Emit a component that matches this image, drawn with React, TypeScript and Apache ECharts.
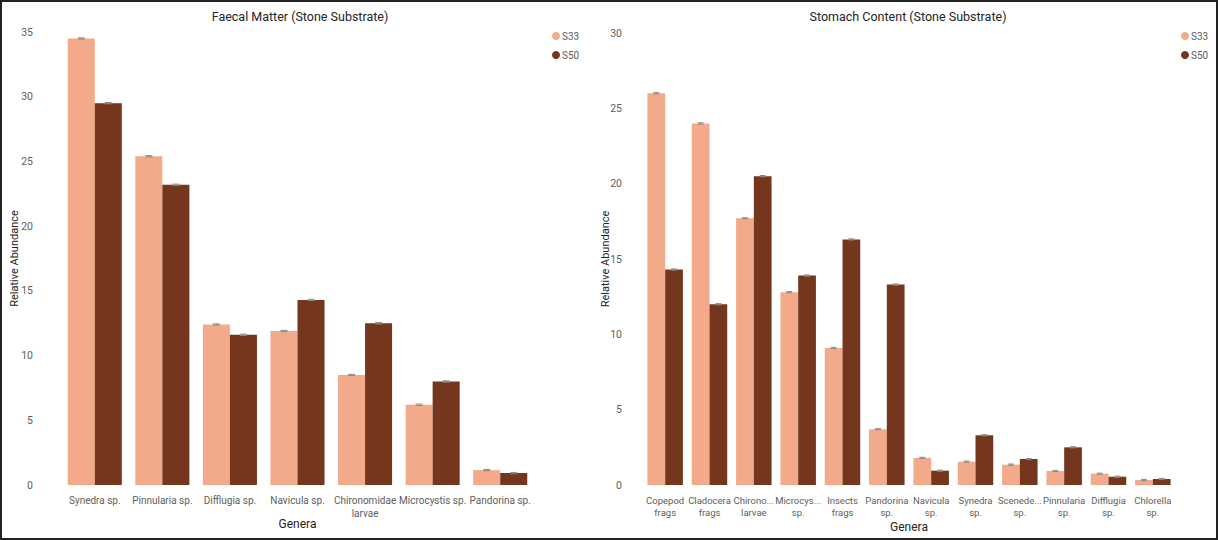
import React, { useEffect, useRef } from "react";
import * as echarts from "echarts";

const leftCategories = [
  "Synedra sp.",
  "Pinnularia sp.",
  "Difflugia sp.",
  "Navicula sp.",
  "Chironomidae\nlarvae",
  "Microcystis sp.",
  "Pandorina sp.",
];
const leftS33 = [34.5, 25.4, 12.4, 11.9, 8.5, 6.2, 1.15];
const leftS50 = [29.5, 23.2, 11.6, 14.3, 12.5, 8.0, 0.92];
const leftErr33 = [0.05, 0.05, 0.05, 0.05, 0.05, 0.05, 0.05];
const leftErr50 = [0.05, 0.05, 0.05, 0.05, 0.05, 0.05, 0.05];

const rightCategories = [
  "Copepod\nfrags",
  "Cladocera\nfrags",
  "Chirono...\nlarvae",
  "Microcys...\nsp.",
  "Insects\nfrags",
  "Pandorina\nsp.",
  "Navicula\nsp.",
  "Synedra\nsp.",
  "Scenede...\nsp.",
  "Pinnularia\nsp.",
  "Difflugia\nsp.",
  "Chlorella\nsp.",
];
const rightS33 = [26.0, 24.0, 17.7, 12.8, 9.1, 3.7, 1.8, 1.55, 1.35, 0.93, 0.75, 0.33];
const rightS50 = [14.3, 12.0, 20.5, 13.9, 16.3, 13.3, 0.95, 3.3, 1.72, 2.5, 0.55, 0.4];
const rightErr33 = [0.04, 0.04, 0.04, 0.04, 0.04, 0.04, 0.04, 0.04, 0.04, 0.04, 0.04, 0.04];
const rightErr50 = [0.04, 0.04, 0.04, 0.04, 0.04, 0.04, 0.04, 0.04, 0.04, 0.04, 0.04, 0.04];

const C33 = "#F2AA8A";
const C50 = "#74361D";
const FONT = "Roboto, sans-serif";

function errSeries(name: string, vals: number[], errs: number[], idx: number, side: number, capW: number) {
  return {
    type: "custom",
    name: name + "-err",
    xAxisIndex: idx,
    yAxisIndex: idx,
    silent: true,
    z: 5,
    data: vals.map((v, i) => [i, v, errs[i]]),
    encode: { x: 0, y: 1 },
    renderItem: (params: any, api: any) => {
      const ci = api.value(0);
      const v = api.value(1);
      const e = api.value(2);
      const band = api.size([1, 0])[0];
      const bw = (band * 0.8) / 2;
      const cx = api.coord([ci, v])[0] + (side * bw) / 2;
      const top = api.coord([ci, v + e])[1];
      const bot = api.coord([ci, v - e])[1];
      const st = { stroke: "#8a8a8a", lineWidth: 1 };
      return {
        type: "group",
        children: [
          { type: "line", shape: { x1: cx, y1: top, x2: cx, y2: bot }, style: st },
          { type: "line", shape: { x1: cx - capW / 2, y1: top, x2: cx + capW / 2, y2: top }, style: st },
          { type: "line", shape: { x1: cx - capW / 2, y1: bot, x2: cx + capW / 2, y2: bot }, style: st },
        ],
      };
    },
  };
}

export default function App() {
  const ref = useRef<HTMLDivElement>(null);
  useEffect(() => {
    document.body.style.margin = "0";
    const chart = echarts.init(ref.current!, null, { renderer: "svg" });
    const axisLabel = { color: "#605E5C", fontSize: 11, fontFamily: FONT };
    const nameStyle = { color: "#252423", fontSize: 12, fontFamily: FONT };
    const makeX = (idx: number, cats: string[], fs: number, lh: number, gap: number) => ({
      type: "category",
      gridIndex: idx,
      data: cats,
      axisLine: { show: false },
      axisTick: { show: false },
      axisLabel: { ...axisLabel, fontSize: fs, interval: 0, margin: 9, lineHeight: lh, overflow: "none" },
      name: "Genera",
      nameLocation: "middle",
      nameGap: gap,
      nameMoveOverlap: false,
      nameTextStyle: { ...nameStyle, fontSize: 12 },
    });
    const makeY = (idx: number, max: number, margin: number, gap: number) => ({
      type: "value",
      gridIndex: idx,
      min: 0,
      max,
      interval: 5,
      splitLine: { show: false },
      axisLine: { show: false },
      axisTick: { show: false },
      axisLabel: { ...axisLabel, fontSize: 10.5, margin },
      name: "Relative Abundance",
      nameLocation: "middle",
      nameGap: gap,
      nameMoveOverlap: false,
      nameTextStyle: { ...nameStyle, fontSize: 11 },
    });
    const bar = (name: string, data: number[], idx: number, color: string) => ({
      type: "bar",
      name,
      xAxisIndex: idx,
      yAxisIndex: idx,
      data,
      barGap: "0%",
      barCategoryGap: "20%",
      itemStyle: { color },
    });
    const legendBase = {
      orient: "vertical",
      icon: "circle",
      itemWidth: 8,
      itemHeight: 8,
      itemGap: 9,
      padding: 0,
      textStyle: { color: "#605E5C", fontSize: 10, fontFamily: FONT, padding: [0, 0, 0, -3] },
      data: ["S33", "S50"],
    };
    chart.setOption({
      animation: false,
      grid: [
        { left: 61, right: 684, top: 32, bottom: 55, outerBoundsMode: "none", containLabel: false },
        { left: 643, right: 43, top: 33, bottom: 55, outerBoundsMode: "none", containLabel: false },
      ],
      xAxis: [makeX(0, leftCategories, 10, 13, 33), makeX(1, rightCategories, 9.5, 12, 36)],
      yAxis: [makeY(0, 35, 28, 41), makeY(1, 30, 21, 32)],
      legend: [
        { ...legendBase, left: 552, top: 31 },
        { ...legendBase, left: 1181, top: 31 },
      ],
      graphic: [
        {
          type: "text",
          x: 300,
          y: 16,
          style: { text: "Faecal Matter (Stone Substrate)", fill: "#252423", fontSize: 12.5, fontFamily: FONT, textAlign: "center", textVerticalAlign: "middle" },
        },
        {
          type: "text",
          x: 908,
          y: 16,
          style: { text: "Stomach Content (Stone Substrate)", fill: "#252423", fontSize: 12.5, fontFamily: FONT, textAlign: "center", textVerticalAlign: "middle" },
        },
      ],
      series: [
        bar("S33", leftS33, 0, C33),
        bar("S50", leftS50, 0, C50),
        bar("S33", rightS33, 1, C33),
        bar("S50", rightS50, 1, C50),
        errSeries("S33", leftS33, leftErr33, 0, -1, 7),
        errSeries("S50", leftS50, leftErr50, 0, 1, 7),
        errSeries("S33", rightS33, rightErr33, 1, -1, 6),
        errSeries("S50", rightS50, rightErr50, 1, 1, 6),
      ],
    });
    return () => chart.dispose();
  }, []);
  return (
    <div style={{ width: 1218, height: 540, boxSizing: "border-box", border: "2px solid #222", position: "relative", background: "#fff" }}>
      <div ref={ref} style={{ position: "absolute", left: -2, top: -2, width: 1218, height: 540 }} />
    </div>
  );
}
